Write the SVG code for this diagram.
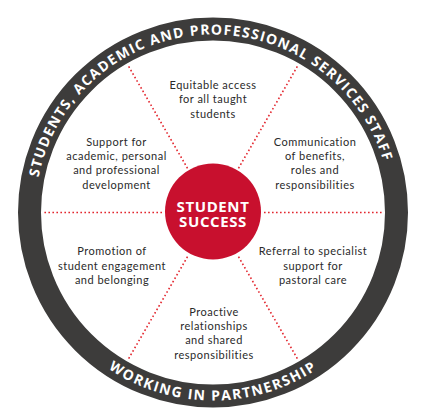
<svg xmlns="http://www.w3.org/2000/svg" xmlns:xlink="http://www.w3.org/1999/xlink" width="426" height="418" viewBox="0 0 426 418">
<style>
.body{font-family:Lato,"Open Sans","Liberation Sans",sans-serif;font-size:11px;letter-spacing:0.5px;fill:#2a2a2a;text-anchor:middle}
.ringtxt{font-family:"Open Sans","Liberation Sans",sans-serif;font-size:14px;font-weight:700;fill:#ffffff}
.core{font-family:"Open Sans","Liberation Sans",sans-serif;font-size:15px;font-weight:700;fill:#ffffff;text-anchor:middle;letter-spacing:0.6px}
.spoke{stroke:#e3262e;stroke-width:1.6;stroke-dasharray:1.6 2.4;fill:none}
</style>
<defs>
<path id="topArc" d="M 35 212.5 A 178 178 0 0 1 391 212.5"/>
<path id="botArc" d="M 25 212.5 A 188 188 0 0 0 401 212.5"/>
</defs>
<rect width="426" height="418" fill="#ffffff"/>
<g id="ring">
<circle cx="213" cy="212.5" r="183.5" fill="none" stroke="#3d3c3b" stroke-width="23"/>
<text class="ringtxt" letter-spacing="1.3"><textPath xlink:href="#topArc" href="#topArc" startOffset="48.6%" text-anchor="middle">STUDENTS, ACADEMIC AND PROFESSIONAL SERVICES STAFF</textPath></text>
<text class="ringtxt" letter-spacing="1.5"><textPath xlink:href="#botArc" href="#botArc" startOffset="50%" text-anchor="middle">WORKING IN PARTNERSHIP</textPath></text>
</g>
<g id="connectors">
<line class="spoke" x1="264" y1="212.5" x2="384" y2="212.5"/>
<line class="spoke" x1="162" y1="212.5" x2="42" y2="212.5"/>
<line class="spoke" x1="238.5" y1="168.3" x2="298.5" y2="64.4"/>
<line class="spoke" x1="187.5" y1="168.3" x2="127.5" y2="64.4"/>
<line class="spoke" x1="187.5" y1="256.7" x2="127.5" y2="360.6"/>
<line class="spoke" x1="238.5" y1="256.7" x2="298.5" y2="360.6"/>
</g>
<g id="center">
<circle cx="213" cy="211.5" r="48" fill="#c8102e"/>
<text class="core"><tspan x="213" y="211.8">STUDENT</tspan><tspan x="213" y="226.7">SUCCESS</tspan></text>
</g>
<g id="equitable">
<text class="body"><tspan x="213" y="88.5">Equitable access</tspan><tspan x="213" y="103">for all taught</tspan><tspan x="213" y="117.5">students</tspan></text>
</g>
<g id="support">
<text class="body"><tspan x="116.5" y="146">Support for</tspan><tspan x="116.5" y="160.2">academic, personal</tspan><tspan x="116.5" y="174.4">and professional</tspan><tspan x="116.5" y="188.6">development</tspan></text>
</g>
<g id="communication">
<text class="body"><tspan x="315" y="146">Communication</tspan><tspan x="315" y="160.2">of benefits,</tspan><tspan x="315" y="174.4">roles and</tspan><tspan x="315" y="188.6">responsibilities</tspan></text>
</g>
<g id="promotion">
<text class="body"><tspan x="112" y="255">Promotion of</tspan><tspan x="112" y="269.5">student engagement</tspan><tspan x="112" y="284">and belonging</tspan></text>
</g>
<g id="referral">
<text class="body"><tspan x="313" y="255">Referral to specialist</tspan><tspan x="313" y="269.5">support for</tspan><tspan x="313" y="284">pastoral care</tspan></text>
</g>
<g id="proactive">
<text class="body"><tspan x="214" y="316">Proactive</tspan><tspan x="214" y="330.2">relationships</tspan><tspan x="214" y="344.4">and shared</tspan><tspan x="214" y="358.6">responsibilities</tspan></text>
</g>
</svg>
